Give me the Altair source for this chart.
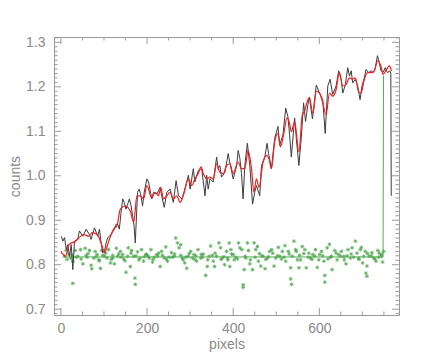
import altair as alt
import pandas as pd

# ---------------- data ----------------
grey_x = [1, 4.6, 8.5, 12.5, 16, 20, 24, 27.7, 31.7, 39, 43, 51, 58.7, 66, 70, 78, 85.5, 89.5, 93.4, 97,
          101, 105, 108.7, 116.5, 124, 128, 132, 135.7, 139.6, 143.5, 147, 151, 155, 159, 163, 166.5, 170,
          172.7, 178, 182, 186, 189.6, 193.5, 199.7, 203.5, 208, 211, 215, 223, 230.5, 234, 240, 246, 253.6,
          261, 267.5, 273, 281, 288, 296, 300, 307.5, 311, 319, 327, 330.6, 334.6, 338.5, 342, 346, 353.7,
          361.6, 365, 369, 373, 381, 388.4, 392, 400, 408, 411.6, 415.5, 419.4, 423, 427, 433, 438.6, 445,
          450, 454, 461.7, 465.7, 473, 478.6, 483, 488.8, 496.4, 504, 508, 515.6, 522, 527, 531, 535, 542.7,
          546.6, 552.6, 558, 563.5, 568, 573.4, 577, 584, 593, 599.5, 608, 613.6, 619.7, 625, 631, 639, 645,
          650.6, 654.5, 660.5, 666, 670, 674, 677.5, 683.7, 689, 694.6, 699, 704.5, 708.4, 714.5, 720, 725.5,
          730, 735, 739, 743, 748, 753, 758, 764, 766, 767]
grey_y = [0.864, 0.853, 0.861, 0.834, 0.845, 0.819, 0.845, 0.789, 0.853, 0.857, 0.876, 0.864, 0.880, 0.868,
          0.857, 0.883, 0.864, 0.880, 0.849, 0.827, 0.830, 0.849, 0.861, 0.868, 0.880, 0.891, 0.891, 0.880,
          0.917, 0.948, 0.940, 0.925, 0.936, 0.948, 0.932, 0.910, 0.887, 0.849, 0.963, 0.970, 0.955, 0.932,
          0.963, 0.993, 0.986, 0.963, 0.948, 0.963, 0.959, 0.974, 0.955, 0.929, 0.963, 0.970, 0.940, 0.989,
          0.955, 0.948, 0.970, 1.001, 0.970, 1.016, 0.986, 1.012, 1.016, 0.986, 0.955, 1.001, 0.970, 0.993,
          0.986, 1.042, 1.016, 1.023, 0.997, 1.008, 1.050, 1.031, 0.993, 1.023, 1.057, 1.039, 1.005, 0.948,
          1.023, 1.073, 1.023, 0.936, 0.963, 0.978, 0.955, 1.023, 1.039, 1.073, 1.046, 1.016, 1.084, 1.111,
          1.069, 1.092, 1.152, 1.133, 1.092, 1.042, 1.130, 1.084, 1.023, 1.084, 1.164, 1.122, 1.160, 1.177,
          1.128, 1.204, 1.188, 1.171, 1.095, 1.202, 1.217, 1.183, 1.202, 1.236, 1.217, 1.186, 1.205, 1.243,
          1.224, 1.236, 1.209, 1.217, 1.202, 1.171, 1.202, 1.220, 1.239, 1.232, 1.236, 1.232, 1.243, 1.270,
          1.255, 1.236, 1.232, 1.243, 1.232, 1.236, 1.230, 0.955]

red_x = [0, 11, 18.5, 34, 53, 65, 72.6, 84, 95.7, 101, 111, 122.5, 130, 138, 149.6, 161, 169, 176.6, 184,
         192, 199.7, 211, 219, 226.6, 232, 238, 246, 253.6, 261, 269, 276.8, 284, 296, 304, 311, 319, 325.3,
         330.6, 338.5, 346, 353.7, 361.6, 369, 377, 384.7, 392.4, 400, 411.6, 419.4, 427, 434.7, 442.5,
         447.9, 454, 460, 469.4, 477, 483, 488.8, 496.4, 504, 509.6, 517, 525, 531, 535, 542.7, 552.6, 560.5,
         566, 571, 577, 585, 593, 600.5, 608, 615.6, 623.5, 631, 639, 646.5, 654.5, 662, 670, 676, 683.7,
         691, 697, 704.5, 712, 720, 728, 735, 743, 748, 756, 762.5, 767.6]
red_y = [0.830, 0.819, 0.845, 0.853, 0.868, 0.864, 0.872, 0.868, 0.842, 0.827, 0.853, 0.880, 0.887, 0.925,
         0.932, 0.921, 0.895, 0.955, 0.955, 0.948, 0.978, 0.950, 0.963, 0.955, 0.974, 0.948, 0.955, 0.963,
         0.948, 0.955, 0.940, 0.955, 0.993, 0.978, 0.993, 1.005, 1.020, 1.005, 0.993, 0.997, 0.993, 1.027,
         1.008, 1.005, 1.023, 1.027, 1.005, 1.031, 1.016, 1.016, 1.057, 1.016, 0.963, 0.993, 0.974, 1.031,
         1.046, 1.039, 1.016, 1.077, 1.095, 1.065, 1.092, 1.130, 1.118, 1.099, 1.122, 1.054, 1.137, 1.145,
         1.164, 1.175, 1.140, 1.190, 1.186, 1.164, 1.137, 1.186, 1.179, 1.194, 1.232, 1.202, 1.205, 1.220,
         1.217, 1.220, 1.190, 1.186, 1.217, 1.232, 1.232, 1.236, 1.258, 1.247, 1.228, 1.239, 1.247, 1.236]

green_line_x = [6, 748, 749]
green_line_y = [0.8175, 0.8175, 1.225]

pts_x = [12.4, 17.8, 22.4, 27.8, 27.8, 33.2, 39.4, 45.5, 51, 56.3, 61, 66.4, 70.2, 71.8, 76.4, 79.5, 84, 89.5,
         91.8, 94.9, 101, 107.2, 110.3, 114.9, 120.3, 124.2, 128.8, 131.9, 138, 143.4, 148.8, 151.1, 156.5,
         161.2, 164.2, 168.9, 172, 172.7, 178, 184.3, 187.4, 192, 197.4, 202.8, 209, 212.8, 216.6, 222.8,
         230.5, 233.6, 239.8, 243.6, 247.5, 251.3, 256.7, 262.9, 266.7, 270.6, 274.4, 278.3, 282, 287.5,
         292.2, 295.3, 301.4, 305.3, 309.1, 315.3, 318.4, 324.5, 330.7, 336.1, 339.9, 343.8, 347.6, 353.8,
         356.9, 361.5, 366.9, 370.8, 374.6, 380, 384.6, 387.7,
         8.5, 35.5, 58.6, 81.8, 97.2, 120.3, 139.6, 155, 174.3, 193.5, 205, 224.3, 235.9, 259, 278.3, 289.9,
         313, 328.4, 351.5, 378.5,
         390.8, 394.7, 400, 402.4, 392.4, 412.4, 415.5, 420.1, 423.2, 423.2, 425.5, 429.3, 433.2, 435.5,
         438.6, 444.8, 448.6, 452.5, 456.3, 458.6, 464, 469.4, 474, 479.4, 484.8, 489.5, 494.9, 498.7, 504.9,
         508, 514.1, 520.3, 521.8, 528, 533.4, 535.7, 533.4, 541.1, 545, 546.5, 552.7, 556.5, 560.4, 566.5,
         569.6, 575.8, 579.6, 585, 591.2, 595.1, 598.9, 605.1, 610.5, 612.8, 612.8, 618.2, 623.6, 628.2,
         629.7, 635.9, 641.3, 645.1, 651.3, 656.7, 662.1, 666.7, 672.1, 676, 683.7, 687.5, 691.4, 695.2,
         697.5, 700.6, 706.8, 708.3, 710.6, 710.6, 716, 722.2, 726, 731.5, 736.1, 739.2, 743.8, 746.9, 749.2,
         387, 406.2, 427.8, 451, 466.3, 481.8, 502.6, 518, 537.2, 554.2, 574.2, 589.6, 608.1, 625.9, 649,
         664.4, 679.8, 703, 720.7, 737.6,
         14, 26, 47, 63, 88, 104, 117, 134, 146, 163, 181, 199, 214, 227, 245, 264, 284, 298, 311, 326, 341,
         358, 372, 396, 410, 440, 461, 476, 492, 512, 530, 549, 564, 583, 601, 620, 639, 658, 674, 692, 712,
         729, 744]
pts_y = [0.832, 0.824, 0.815, 0.808, 0.758, 0.832, 0.819, 0.834, 0.802, 0.837, 0.817, 0.832, 0.799, 0.791,
         0.815, 0.830, 0.823, 0.809, 0.792, 0.832, 0.819, 0.815, 0.834, 0.804, 0.815, 0.802, 0.837, 0.819,
         0.830, 0.823, 0.809, 0.783, 0.838, 0.796, 0.832, 0.819, 0.770, 0.756, 0.829, 0.815, 0.834, 0.808,
         0.823, 0.819, 0.834, 0.806, 0.817, 0.823, 0.796, 0.830, 0.815, 0.840, 0.808, 0.817, 0.827, 0.819,
         0.860, 0.849, 0.838, 0.845, 0.815, 0.804, 0.792, 0.819, 0.830, 0.815, 0.823, 0.808, 0.834, 0.815,
         0.824, 0.776, 0.796, 0.819, 0.842, 0.808, 0.796, 0.819, 0.849, 0.838, 0.815, 0.800, 0.830, 0.811,
         0.819, 0.817, 0.821, 0.818, 0.821, 0.821, 0.817, 0.819, 0.820, 0.818, 0.815, 0.819, 0.821, 0.817,
         0.821, 0.817, 0.820, 0.817, 0.821, 0.818,
         0.849, 0.834, 0.823, 0.811, 0.796, 0.849, 0.838, 0.834, 0.755, 0.749, 0.789, 0.815, 0.849, 0.832,
         0.802, 0.789, 0.849, 0.834, 0.841, 0.808, 0.797, 0.819, 0.791, 0.815, 0.830, 0.834, 0.797, 0.815,
         0.839, 0.819, 0.830, 0.843, 0.808, 0.830, 0.768, 0.756, 0.793, 0.853, 0.834, 0.830, 0.793, 0.811,
         0.841, 0.834, 0.793, 0.826, 0.815, 0.823, 0.834, 0.794, 0.811, 0.830, 0.808, 0.776, 0.761, 0.838,
         0.846, 0.819, 0.789, 0.832, 0.811, 0.823, 0.830, 0.819, 0.802, 0.834, 0.815, 0.838, 0.853, 0.826,
         0.815, 0.834, 0.839, 0.804, 0.830, 0.781, 0.797, 0.774, 0.819, 0.827, 0.815, 0.808, 0.832, 0.826,
         0.819, 0.806, 0.830,
         0.815, 0.817, 0.819, 0.817, 0.820, 0.818, 0.820, 0.817, 0.819, 0.821, 0.817, 0.819, 0.820, 0.817,
         0.819, 0.820, 0.817, 0.819, 0.820, 0.817,
         0.812, 0.822, 0.813, 0.825, 0.811, 0.826, 0.812, 0.824, 0.813, 0.826, 0.811, 0.823, 0.812, 0.826,
         0.813, 0.824, 0.811, 0.825, 0.812, 0.823, 0.811, 0.826, 0.812, 0.824, 0.813, 0.811, 0.825, 0.812,
         0.826, 0.813, 0.824, 0.811, 0.825, 0.812, 0.823, 0.813, 0.826, 0.811, 0.824, 0.812, 0.825, 0.813,
         0.823]

x_major = [0, 200, 400, 600]
x_minor = [50, 100, 150, 250, 300, 350, 450, 500, 550, 650, 700, 750]
y_major = [0.7, 0.8, 0.9, 1.0, 1.1, 1.2, 1.3]
y_minor = [round(0.69 + 0.01 * i, 2) for i in range(63)]
y_minor = [v for v in y_minor if all(abs(v - m) > 1e-6 for m in y_major)]

X_DOMAIN = [-16, 785]
Y_DOMAIN = [0.687, 1.312]
W, H = 345, 278
AXC = "#9a9a9a"
TXT = "#8a8a8a"

xs = alt.Scale(domain=X_DOMAIN, nice=False, zero=False)
ys = alt.Scale(domain=Y_DOMAIN, nice=False, zero=False)

xaxis = alt.Axis(values=x_major, format="d", title="pixels", ticks=False, domain=False, grid=False,
                 labelPadding=6, titlePadding=2)
yaxis = alt.Axis(values=y_major, format=".1f", title="counts", ticks=False, domain=False, grid=False,
                 labelPadding=9, titlePadding=3)

X = lambda: alt.X("x:Q", scale=xs, axis=xaxis)
Y = lambda: alt.Y("y:Q", scale=ys, axis=yaxis)

grey_df = pd.DataFrame({"x": grey_x, "y": grey_y})
red_df = pd.DataFrame({"x": red_x, "y": red_y})
gl_df = pd.DataFrame({"x": green_line_x, "y": green_line_y})
pts_df = pd.DataFrame({"x": pts_x, "y": pts_y})

star = "M-1,0L1,0M0,-1L0,1M-0.7,-0.7L0.7,0.7M-0.7,0.7L0.7,-0.7"

pts = alt.Chart(pts_df).mark_point(shape=star, filled=False, size=14, strokeWidth=0.9,
                                   color="#45a345", opacity=0.85).encode(x=X(), y=Y())
gline = alt.Chart(gl_df).mark_line(color="#55aa55", strokeWidth=1).encode(x=X(), y=Y())
grey = alt.Chart(grey_df).mark_line(color="#3c3c3c", strokeWidth=1).encode(x=X(), y=Y())
red = alt.Chart(red_df).mark_line(color="#ee2020", strokeWidth=1.2, interpolate="monotone").encode(x=X(), y=Y())

xmaj_df = pd.DataFrame({"x": x_major})
xmin_df = pd.DataFrame({"x": x_minor})
ymaj_df = pd.DataFrame({"y": y_major})
ymin_df = pd.DataFrame({"y": y_minor})

def xticks(df, ln):
    b = alt.Chart(df).mark_rule(color=AXC, strokeWidth=1).encode(x=X(), y=alt.value(H), y2=alt.value(H - ln))
    t = alt.Chart(df).mark_rule(color=AXC, strokeWidth=1).encode(x=X(), y=alt.value(0), y2=alt.value(ln))
    return [b, t]

def yticks(df, ln):
    l = alt.Chart(df).mark_rule(color=AXC, strokeWidth=1).encode(y=Y(), x=alt.value(0), x2=alt.value(ln))
    r = alt.Chart(df).mark_rule(color=AXC, strokeWidth=1).encode(y=Y(), x=alt.value(W), x2=alt.value(W - ln))
    return [l, r]

layers = [pts, gline, grey, red] + xticks(xmaj_df, 7) + xticks(xmin_df, 3.5) + yticks(ymaj_df, 7) + yticks(ymin_df, 3.5)

chart = alt.layer(*layers).properties(
    width=W, height=H,
    autosize=alt.AutoSizeParams(type="none"),
    padding={"left": 46, "top": 29, "right": 25, "bottom": 37},
).configure_view(stroke=AXC, strokeWidth=1).configure_axis(
    labelFont="Liberation Sans", labelFontSize=14, labelColor=TXT,
    titleFont="Liberation Sans", titleFontSize=14, titleColor=TXT, titleFontWeight="normal",
)

chart.save("out.html", embed_options={"renderer": "svg", "actions": False})
